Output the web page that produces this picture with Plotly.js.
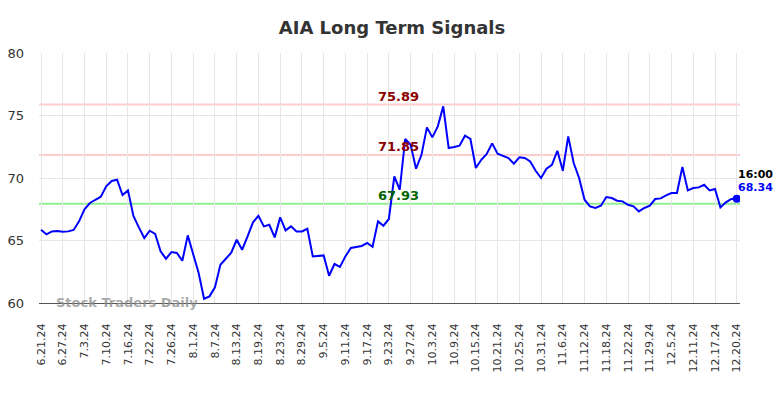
<!DOCTYPE html>
<html>
<head>
<meta charset="utf-8">
<script src="https://cdn.plot.ly/plotly-3.0.1.min.js"></script>
<style>html,body{margin:0;padding:0;background:#fff;}#chart{width:784px;height:398px;}</style>
</head>
<body>
<div id="chart"></div>
<script>
// Tick labels (every 4th data point)
const tickLabels = ["6.21.24","6.27.24","7.3.24","7.10.24","7.16.24","7.22.24","7.26.24","8.1.24","8.7.24","8.13.24","8.19.24","8.23.24","8.29.24","9.5.24","9.11.24","9.17.24","9.23.24","9.27.24","10.3.24","10.9.24","10.15.24","10.21.24","10.25.24","10.31.24","11.6.24","11.12.24","11.18.24","11.22.24","11.29.24","12.5.24","12.11.24","12.17.24","12.20.24"];
const tickStep = 4;

// Closing prices
const prices = [
65.86,65.49,65.73,65.76,65.70,65.73,65.84,66.53,67.49,68.00,
68.26,68.50,69.33,69.76,69.86,68.64,69.01,66.96,66.05,65.20,
65.78,65.52,64.13,63.54,64.08,64.00,63.38,65.41,63.90,62.40,
60.34,60.53,61.25,63.06,63.54,64.02,65.06,64.26,65.33,66.45,
66.98,66.13,66.26,65.25,66.85,65.81,66.13,65.73,65.73,65.94,
63.73,63.76,63.81,62.18,63.12,62.88,63.73,64.40,64.48,64.56,
64.80,64.50,66.53,66.18,66.72,70.13,69.06,73.12,72.66,70.74,
71.86,74.05,73.25,74.13,75.73,72.40,72.48,72.58,73.38,73.12,
70.80,71.46,71.92,72.77,71.94,71.78,71.60,71.14,71.65,71.60,
71.33,70.58,70.00,70.74,71.06,72.18,70.58,73.33,71.20,70.00,
68.26,67.73,67.60,67.78,68.48,68.40,68.18,68.13,67.86,67.73,
67.33,67.60,67.78,68.32,68.37,68.61,68.80,68.80,70.88,69.01,
69.20,69.25,69.46,69.01,69.12,67.65,68.05,68.32,68.34
];

// Signal levels
const resistanceHigh = 75.89;
const resistanceLow = 71.85;
const support = 67.93;
const lastTime = "16:00";

const xIdx = prices.map((_, i) => i);
const tickVals = tickLabels.map((_, i) => i * tickStep);
const n = prices.length;
const lastX = n - 1;
const lastY = prices[n - 1];
const annX = 65.8;

const font = "DejaVu Sans, Verdana, sans-serif";

const traces = [
  {x: xIdx, y: prices, type: 'scatter', mode: 'lines', line: {color: '#0000ff', width: 2}, hoverinfo: 'skip'},
  {x: [lastX], y: [lastY], type: 'scatter', mode: 'markers', marker: {color: '#0000ff', size: 8}, hoverinfo: 'skip'}
];

const hline = (y, color) => ({type: 'line', xref: 'paper', x0: 0, x1: 1, yref: 'y', y0: y, y1: y, line: {color: color, width: 2}, layer: 'below'});

const layout = {
  width: 784, height: 398,
  margin: {l: 39, r: 44, t: 53, b: 95},
  paper_bgcolor: '#fff', plot_bgcolor: '#fff',
  showlegend: false,
  font: {family: font, color: '#333'},
  title: {text: '<b>AIA Long Term Signals</b>', font: {family: font, size: 18, color: '#333'}, x: 0.5, xanchor: 'center', y: 0.93, yanchor: 'middle'},
  xaxis: {
    range: [-0.37, 128.6], tickvals: tickVals, ticktext: tickLabels, tickangle: -90,
    showgrid: true, gridcolor: '#e6e6e6', gridwidth: 1, zeroline: false,
    showline: true, linecolor: '#555', linewidth: 1,
    ticks: '', ticklabelstandoff: 15,
    tickfont: {family: font, size: 11, color: '#333'}
  },
  yaxis: {
    range: [60, 80], tickvals: [60, 65, 70, 75, 80],
    showgrid: true, gridcolor: '#e6e6e6', gridwidth: 1, zeroline: false,
    showline: false, ticks: '', ticklabelstandoff: 14,
    tickfont: {family: font, size: 13, color: '#333'}
  },
  shapes: [hline(resistanceHigh, '#ffcccc'), hline(resistanceLow, '#ffcccc'), hline(support, '#90ee90')],
  annotations: [
    {x: annX, y: resistanceHigh, xref: 'x', yref: 'y', text: '<b>' + resistanceHigh.toFixed(2) + '</b>', showarrow: false, yshift: 8, font: {family: font, size: 13, color: '#8b0000'}},
    {x: annX, y: resistanceLow, xref: 'x', yref: 'y', text: '<b>' + resistanceLow.toFixed(2) + '</b>', showarrow: false, yshift: 8, font: {family: font, size: 13, color: '#8b0000'}},
    {x: annX, y: support, xref: 'x', yref: 'y', text: '<b>' + support.toFixed(2) + '</b>', showarrow: false, yshift: 8, font: {family: font, size: 13, color: '#006400'}},
    {x: lastX, y: lastY, xref: 'x', yref: 'y', text: '<b>' + lastTime + '</b>', showarrow: false, xanchor: 'left', xshift: -1, yshift: 24, font: {family: font, size: 11, color: '#000'}},
    {x: lastX, y: lastY, xref: 'x', yref: 'y', text: '<b>' + lastY.toFixed(2) + '</b>', showarrow: false, xanchor: 'left', xshift: -1, yshift: 11, font: {family: font, size: 11, color: '#0000ff'}},
    {x: 0.021, y: 60, xref: 'paper', yref: 'y', text: '<b>Stock Traders Daily</b>', showarrow: false, xanchor: 'left', yanchor: 'middle', yshift: 1, font: {family: font, size: 13, color: 'rgba(140,140,140,0.75)'}}
  ]
};

Plotly.newPlot('chart', traces, layout, {staticPlot: true, displayModeBar: false});
</script>
</body>
</html>
